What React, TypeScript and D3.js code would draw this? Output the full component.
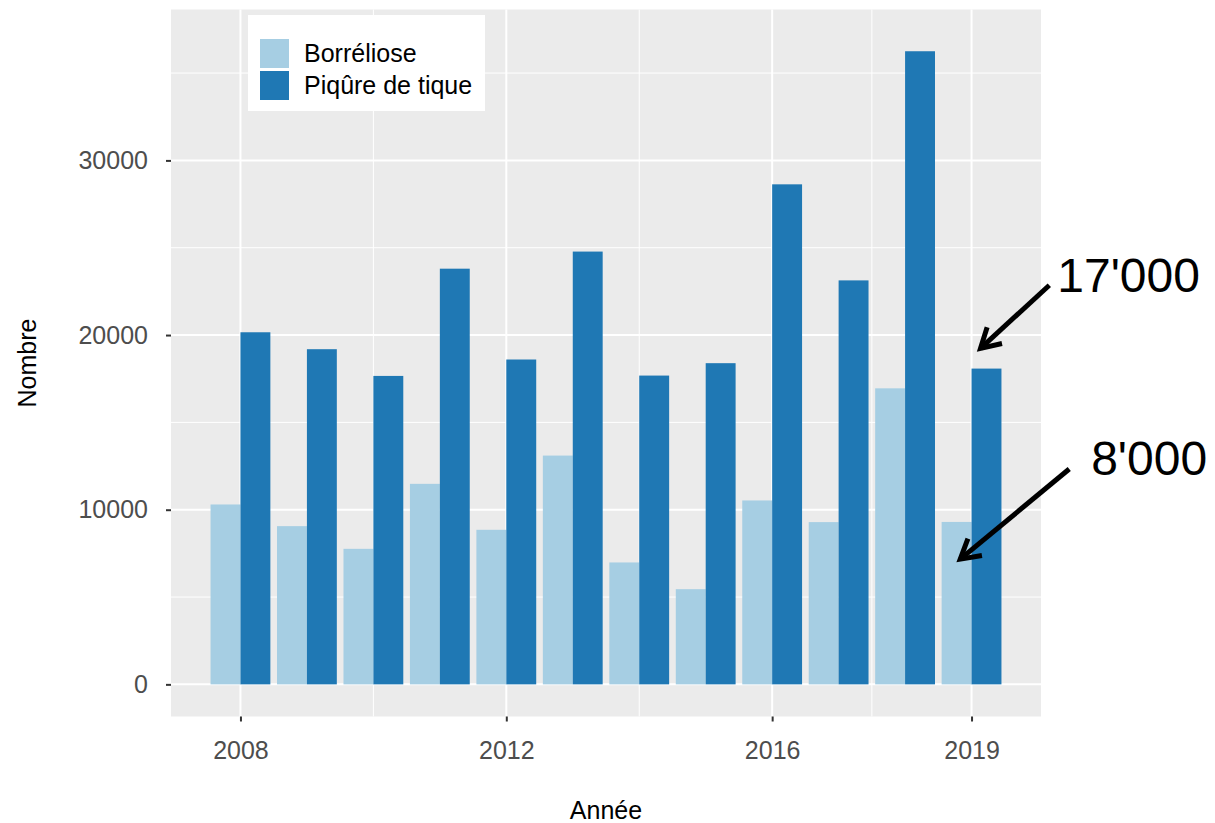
import React, { Component } from 'react';
import * as d3 from 'd3';

// data
const years: Array<number> = [2008, 2009, 2010, 2011, 2012, 2013, 2014, 2015, 2016, 2017, 2018, 2019];
const borreliose: Array<number> = [10300, 9060, 7760, 11480, 8850, 13100, 6980, 5450, 10530, 9290, 16950, 9300];
const piqure: Array<number> = [20160, 19190, 17660, 23800, 18600, 24780, 17680, 18390, 28630, 23130, 36250, 18080];
const seriesNames: Array<string> = ['Borréliose', 'Piqûre de tique'];
const seriesColors: Array<string> = ['#A6CEE3', '#1F78B4'];

const xTicks: Array<number> = [2008, 2012, 2016, 2019];
const xMinor: Array<number> = [2010, 2014, 2017.5];
const yTicks: Array<number> = [0, 10000, 20000, 30000];
const yMinor: Array<number> = [5000, 15000, 25000, 35000];

// annotations, in data units
const noteLabels: Array<string> = ["17'000", "8'000"];
const noteText: Array<[number, number]> = [[2020.29, 22450], [2020.8, 11980]];
const noteFrom: Array<[number, number]> = [[2020.17, 22850], [2020.47, 12330]];
const noteTo: Array<[number, number]> = [[2019.135, 19240], [2018.83, 7170]];

const FONT = '"Liberation Sans", Arial, Helvetica, sans-serif';

class Chart extends Component {
  svgRef = React.createRef<SVGSVGElement>();

  componentDidMount() {
    const width = 1215;
    const height = 823;
    const panel = { left: 171, right: 1041, top: 9.5, bottom: 716.5 };

    const svg = d3.select(this.svgRef.current).attr('width', width).attr('height', height);
    svg.selectAll('*').remove();

    const barW = 0.45;
    const xMin = years[0] - barW;
    const xMax = years[years.length - 1] + barW;
    const xPad = (xMax - xMin) * 0.05;
    const xScale = d3
      .scaleLinear()
      .domain([xMin - xPad, xMax + xPad])
      .range([panel.left, panel.right]);

    const yTop = 36800;
    const yScale = d3
      .scaleLinear()
      .domain([-yTop * 0.05, yTop * 1.05])
      .range([panel.bottom, panel.top]);

    // panel
    svg
      .append('rect')
      .attr('x', panel.left)
      .attr('y', panel.top)
      .attr('width', panel.right - panel.left)
      .attr('height', panel.bottom - panel.top)
      .attr('fill', '#EBEBEB');

    const grid = svg.append('g').attr('stroke', '#FFFFFF');
    grid
      .selectAll('.ymin')
      .data(yMinor)
      .enter()
      .append('line')
      .attr('x1', panel.left)
      .attr('x2', panel.right)
      .attr('y1', d => yScale(d))
      .attr('y2', d => yScale(d))
      .attr('stroke-width', 1);
    grid
      .selectAll('.xmin')
      .data(xMinor)
      .enter()
      .append('line')
      .attr('y1', panel.top)
      .attr('y2', panel.bottom)
      .attr('x1', d => xScale(d))
      .attr('x2', d => xScale(d))
      .attr('stroke-width', 1);
    grid
      .selectAll('.ymaj')
      .data(yTicks)
      .enter()
      .append('line')
      .attr('x1', panel.left)
      .attr('x2', panel.right)
      .attr('y1', d => yScale(d))
      .attr('y2', d => yScale(d))
      .attr('stroke-width', 2);
    grid
      .selectAll('.xmaj')
      .data(xTicks)
      .enter()
      .append('line')
      .attr('y1', panel.top)
      .attr('y2', panel.bottom)
      .attr('x1', d => xScale(d))
      .attr('x2', d => xScale(d))
      .attr('stroke-width', 2);

    // bars, dodged
    const series = [borreliose, piqure];
    series.forEach((values, s) => {
      svg
        .append('g')
        .selectAll('rect')
        .data(values)
        .enter()
        .append('rect')
        .attr('x', (d, i) => xScale(years[i] - barW + s * barW))
        .attr('width', (d, i) => xScale(years[i] + barW) - xScale(years[i]))
        .attr('y', d => yScale(d))
        .attr('height', d => yScale(0) - yScale(d))
        .attr('fill', seriesColors[s]);
    });

    // axes
    const yAxis = svg
      .append('g')
      .attr('transform', `translate(${panel.left}, 0)`)
      .call(d3.axisLeft(yScale).tickValues(yTicks).tickSize(5).tickPadding(18).tickFormat(d3.format('d')));
    const xAxis = svg
      .append('g')
      .attr('transform', `translate(0, ${panel.bottom})`)
      .call(d3.axisBottom(xScale).tickValues(xTicks).tickSize(5).tickPadding(20).tickFormat(d3.format('d')));
    [yAxis, xAxis].forEach(ax => {
      ax.select('.domain').remove();
      ax.selectAll('line').attr('stroke', '#333333').attr('stroke-width', 2);
      ax.selectAll('text')
        .attr('fill', '#4D4D4D')
        .style('font-family', FONT)
        .style('font-size', '25px');
    });

    // titles
    svg
      .append('text')
      .attr('x', (panel.left + panel.right) / 2)
      .attr('y', 819)
      .attr('text-anchor', 'middle')
      .style('font-family', FONT)
      .style('font-size', '25px')
      .attr('fill', '#000')
      .text('Année');
    svg
      .append('text')
      .attr('transform', `translate(35.5, ${(panel.top + panel.bottom) / 2}) rotate(-90)`)
      .attr('text-anchor', 'middle')
      .style('font-family', FONT)
      .style('font-size', '25px')
      .attr('fill', '#000')
      .text('Nombre');

    // legend
    const legend = svg.append('g').attr('transform', 'translate(248, 15)');
    legend.append('rect').attr('width', 237).attr('height', 96).attr('fill', '#FFFFFF');
    seriesNames.forEach((name, i) => {
      legend
        .append('rect')
        .attr('x', 12)
        .attr('y', 24 + i * 32)
        .attr('width', 29)
        .attr('height', 29)
        .attr('fill', seriesColors[i]);
      legend
        .append('text')
        .attr('x', 56)
        .attr('y', 24 + i * 32 + 14.5)
        .attr('dy', '0.35em')
        .style('font-family', FONT)
        .style('font-size', '25px')
        .attr('fill', '#000')
        .text(name);
    });

    // arrows and labels
    const headLen = 22;
    const headAngle = Math.PI / 6;
    noteLabels.forEach((label, i) => {
      const x1 = xScale(noteFrom[i][0]);
      const y1 = yScale(noteFrom[i][1]);
      const x2 = xScale(noteTo[i][0]);
      const y2 = yScale(noteTo[i][1]);
      const a = Math.atan2(y1 - y2, x1 - x2);
      svg
        .append('line')
        .attr('x1', x1)
        .attr('y1', y1)
        .attr('x2', x2)
        .attr('y2', y2)
        .attr('stroke', '#000')
        .attr('stroke-width', 5);
      const head: Array<[number, number]> = [
        [x2 + headLen * Math.cos(a + headAngle), y2 + headLen * Math.sin(a + headAngle)],
        [x2, y2],
        [x2 + headLen * Math.cos(a - headAngle), y2 + headLen * Math.sin(a - headAngle)],
      ];
      svg
        .append('path')
        .attr('d', d3.line()(head) as string)
        .attr('fill', 'none')
        .attr('stroke', '#000')
        .attr('stroke-width', 5)
        .attr('stroke-linejoin', 'miter');
      svg
        .append('text')
        .attr('x', xScale(noteText[i][0]))
        .attr('y', yScale(noteText[i][1]))
        .style('font-family', FONT)
        .style('font-size', '48px')
        .attr('fill', '#000')
        .text(label);
    });
  }

  render() {
    return <svg ref={this.svgRef} style={{ position: 'absolute', left: 0, top: 0 }} />;
  }
}

export default function App() {
  return <Chart />;
}
